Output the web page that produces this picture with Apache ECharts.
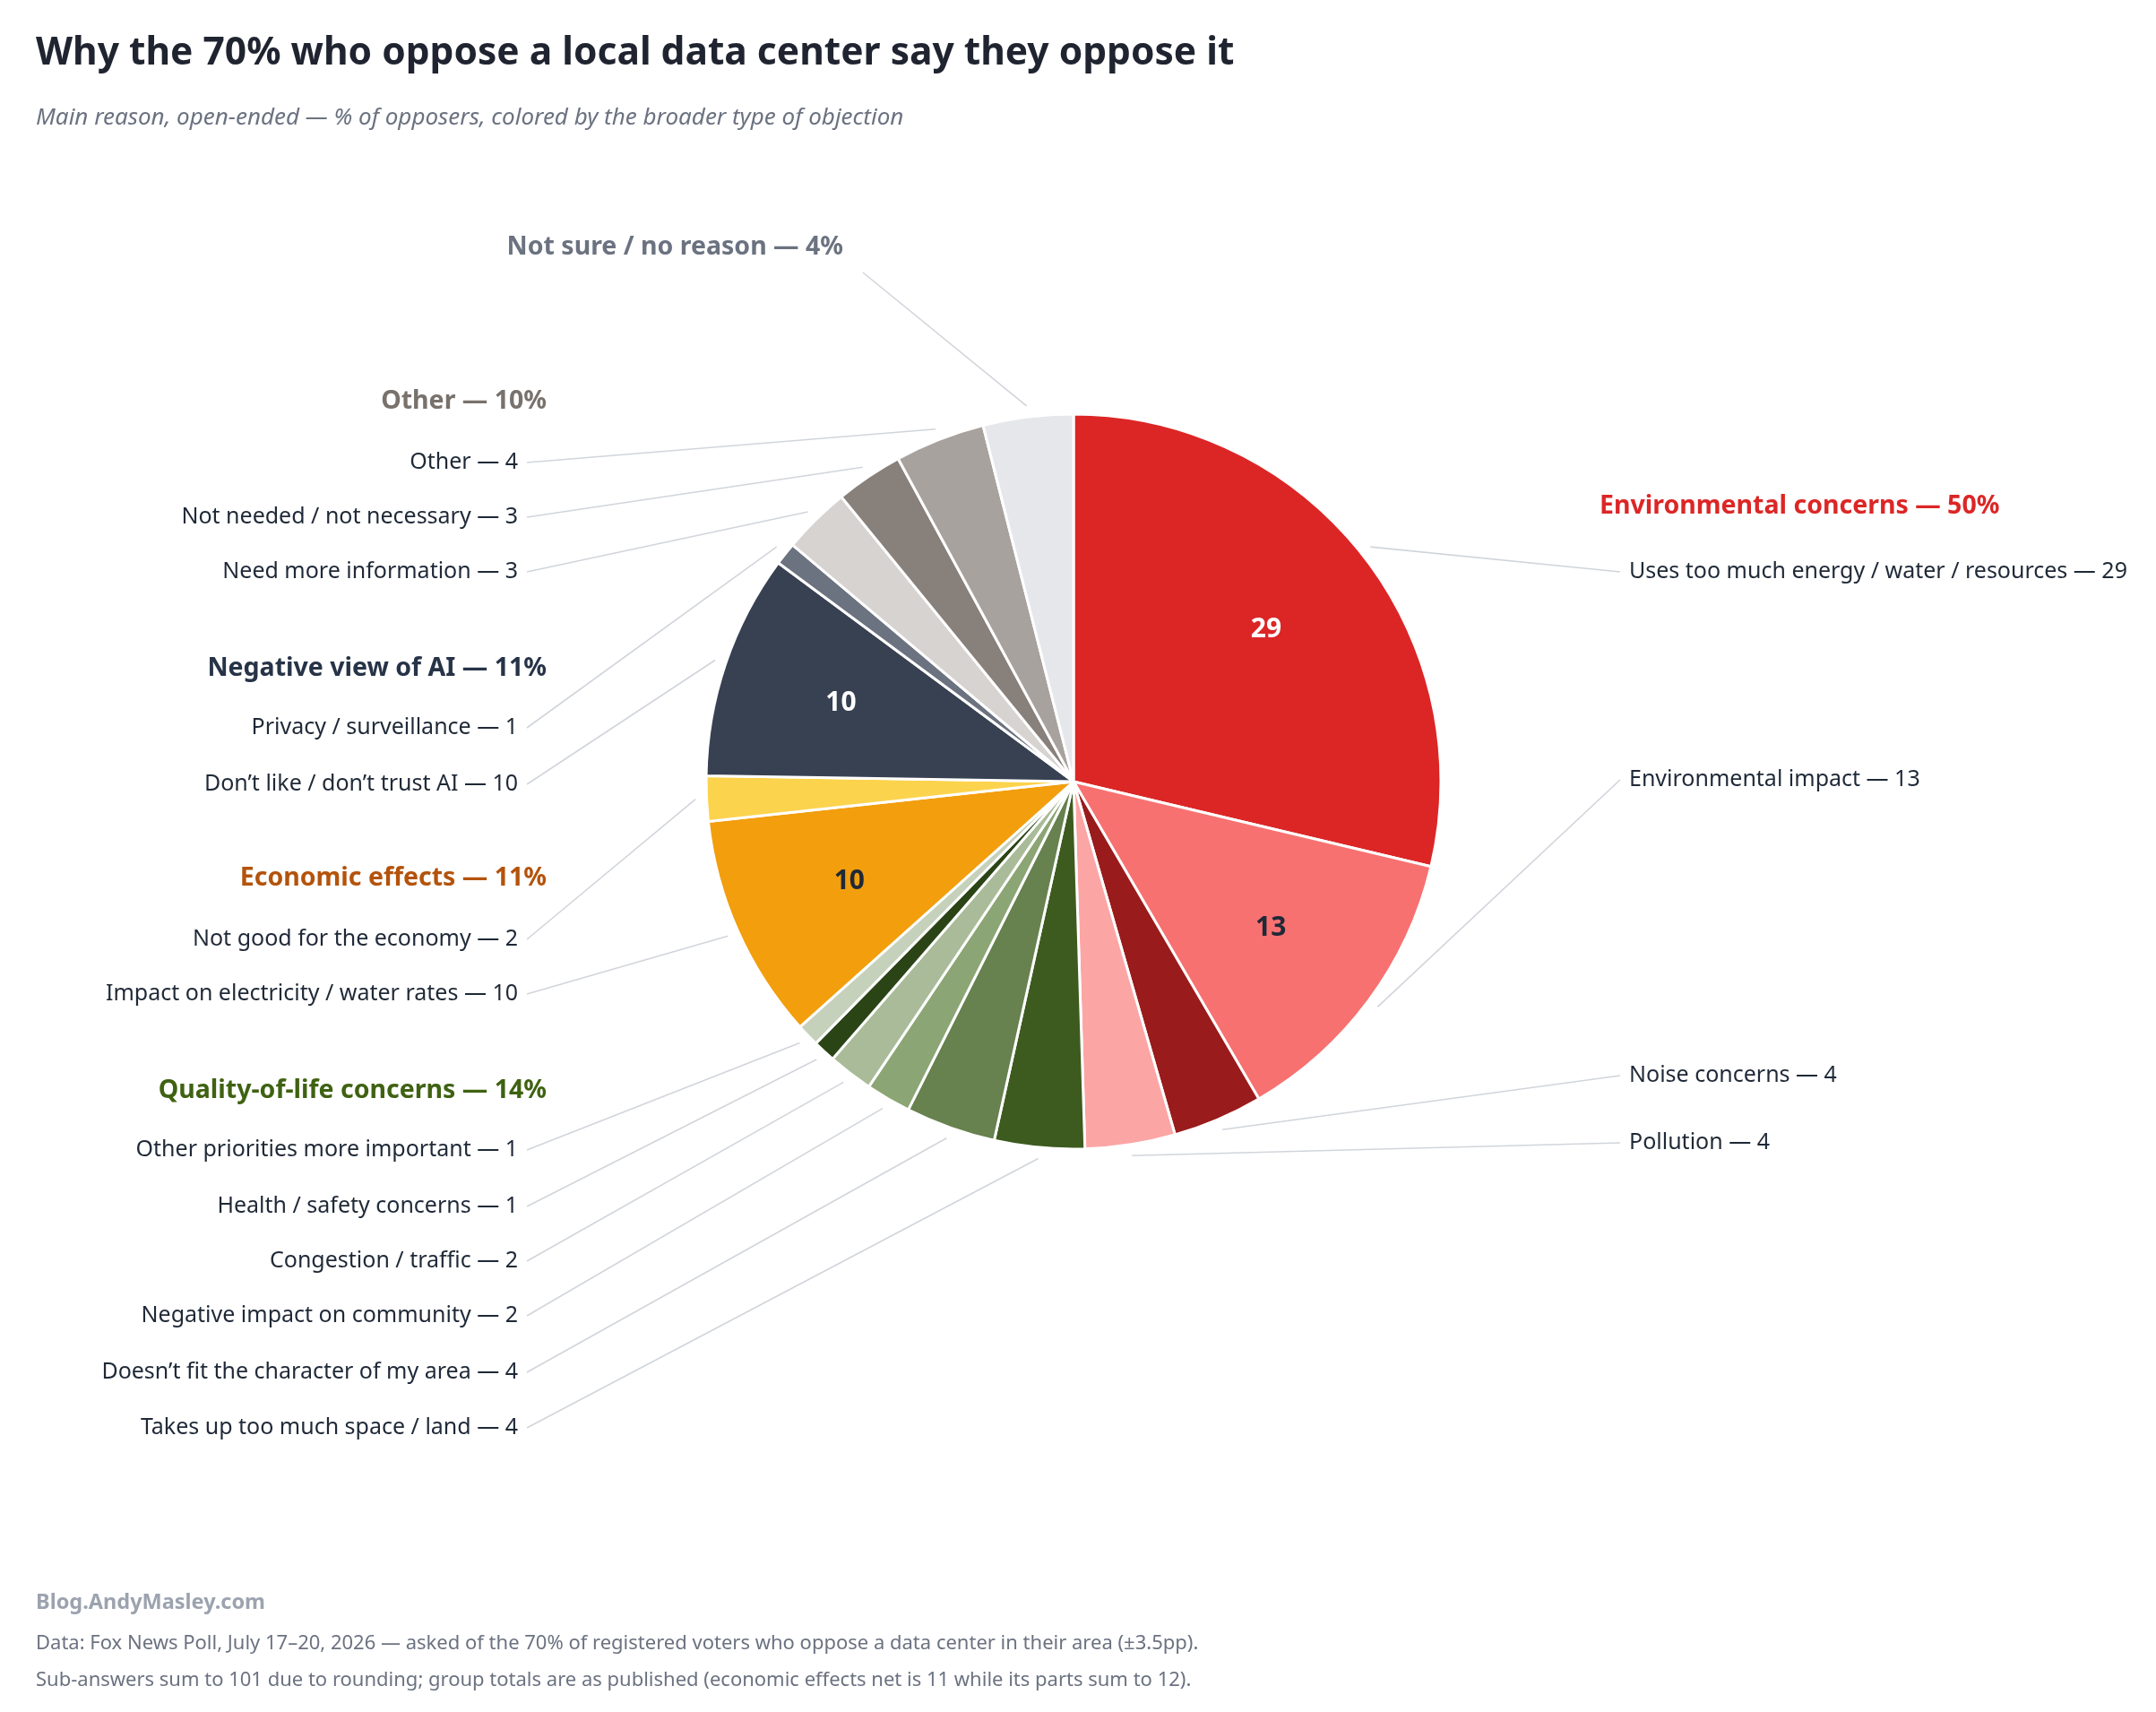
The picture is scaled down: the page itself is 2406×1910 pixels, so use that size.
<!DOCTYPE html>
<html>
<head>
<meta charset="utf-8">
<title>Why the 70% who oppose a local data center say they oppose it</title>
<script src="https://cdn.jsdelivr.net/npm/echarts@6/dist/echarts.min.js"></script>
<style>
html, body { margin: 0; padding: 0; background: #ffffff; }
#reasons-chart { width: 2406px; height: 1910px; }
</style>
</head>
<body>
<div id="reasons-chart"></div>
<script>
// main reasons, clockwise from 12 o'clock
var reasons = ['Uses too much energy / water / resources', 'Environmental impact', 'Noise concerns', 'Pollution',
    'Takes up too much space / land', 'Doesn\u2019t fit the character of my area', 'Negative impact on community',
    'Congestion / traffic', 'Health / safety concerns', 'Other priorities more important',
    'Impact on electricity / water rates', 'Not good for the economy',
    'Don\u2019t like / don\u2019t trust AI', 'Privacy / surveillance',
    'Need more information', 'Not needed / not necessary', 'Other', 'Not sure / no reason'];
var shares = [29, 13, 4, 4, 4, 4, 2, 2, 1, 1, 10, 2, 10, 1, 3, 3, 4, 4]; // % of opposers
var reasonGroup = [0, 0, 0, 0, 1, 1, 1, 1, 1, 1, 2, 2, 3, 3, 4, 4, 4, 5];

// broader type of objection
var groupNames = ['Environmental concerns', 'Quality-of-life concerns', 'Economic effects', 'Negative view of AI', 'Other', 'Not sure / no reason'];
var groupTotals = [50, 14, 11, 11, 10, 4];

var titleText = 'Why the 70% who oppose a local data center say they oppose it';
var subtitleText = 'Main reason, open-ended \u2014 % of opposers, colored by the broader type of objection';
var sourceText = 'Blog.AndyMasley.com';
var noteLines = ['Data: Fox News Poll, July 17\u201320, 2026 \u2014 asked of the 70% of registered voters who oppose a data center in their area (\u00b13.5pp).',
    'Sub-answers sum to 101 due to rounding; group totals are as published (economic effects net is 11 while its parts sum to 12).'];

// styles
var sliceColors = ['#dc2626', '#f87171', '#991b1b', '#fca5a5',
    '#3d5b1f', '#67814f', '#8ca574', '#a9bb98', '#2b4416', '#c6d1bc',
    '#f29e0d', '#fcd34d', '#374151', '#6b7280',
    '#d6d3d1', '#88807a', '#a8a29e', '#e5e7eb'];
var groupColors = ['#dc2626', '#3f6212', '#b4530b', '#273347', '#78716c', '#6b7280'];
var innerLabelColors = {0: '#ffffff', 1: '#1f2937', 10: '#1f2937', 12: '#ffffff'};

// layout (px)
var FONT = '"Noto Sans", "DejaVu Sans", sans-serif';
var CX = 1198, CY = 872, R = 410;
var LEFT_X = 578, RIGHT_X = 1818, HEAD_LEFT_X = 610, HEAD_RIGHT_X = 1785;
var labelY = [638, 870, 1200, 1275, 1593, 1531, 1468, 1407, 1346, 1283, 1109, 1048, 875, 812, 638, 577, 516, 276];
var headY = [565, 1217, 980, 746, 448];

var chart = echarts.init(document.getElementById('reasons-chart'));

var pieData = reasons.map(function (name, i) {
    var item = {name: name, value: shares[i], itemStyle: {color: sliceColors[i]}};
    if (reasonGroup[i] === 5) {
        // "not sure" has no sub-answers, its label is the group heading
        item.label = {fontWeight: 'bold', fontSize: 28.5, color: groupColors[5]};
    }
    return item;
});

var innerData = reasons.map(function (name, i) {
    return {
        name: name,
        value: shares[i],
        label: {color: innerLabelColors[i] || '#1f2937'}
    };
});

var graphics = [
    {type: 'text', x: 40, y: 60, style: {text: titleText, fill: '#1f2430', font: 'bold 42.5px ' + FONT, verticalAlign: 'middle'}},
    {type: 'text', x: 40, y: 132, style: {text: subtitleText, fill: '#6b7280', font: 'italic 26px ' + FONT, verticalAlign: 'middle'}},
    {type: 'text', x: 40, y: 1788, style: {text: sourceText, fill: '#9ca3af', font: 'bold 23.5px ' + FONT, verticalAlign: 'middle'}},
    {type: 'text', x: 40, y: 1834, style: {text: noteLines[0], fill: '#6b7280', font: '22px ' + FONT, verticalAlign: 'middle'}},
    {type: 'text', x: 40, y: 1875, style: {text: noteLines[1], fill: '#6b7280', font: '22px ' + FONT, verticalAlign: 'middle'}}
];
// group headings (the "not sure" one is the pie label itself)
for (var g = 0; g < 5; g++) {
    var onRight = g === 0;
    graphics.push({
        type: 'text',
        x: onRight ? HEAD_RIGHT_X : HEAD_LEFT_X,
        y: headY[g],
        style: {
            text: groupNames[g] + ' \u2014 ' + groupTotals[g] + '%',
            fill: groupColors[g],
            font: 'bold 28.5px ' + FONT,
            align: onRight ? 'left' : 'right',
            verticalAlign: 'middle'
        }
    });
}

var option = {
    backgroundColor: '#ffffff',
    animation: false,
    graphic: graphics,
    series: [
        {
            type: 'pie',
            center: [CX, CY],
            radius: R,
            startAngle: 90,
            clockwise: true,
            avoidLabelOverlap: false,
            silent: true,
            itemStyle: {borderColor: '#ffffff', borderWidth: 3},
            label: {
                show: true,
                position: 'outside',
                overflow: 'none',
                fontFamily: FONT,
                fontSize: 25,
                color: '#1f2937',
                formatter: function (p) {
                    if (reasonGroup[p.dataIndex] === 5) {
                        return p.name + ' \u2014 ' + groupTotals[5] + '%';
                    }
                    return p.name + ' \u2014 ' + p.value;
                }
            },
            labelLine: {show: true, lineStyle: {color: '#d1d5db', width: 1.6}},
            labelLayout: function (params) {
                var i = params.dataIndex;
                var onRight = reasonGroup[i] === 0;
                var isHead = reasonGroup[i] === 5;
                var x = isHead ? 941 : (onRight ? RIGHT_X : LEFT_X);
                var y = labelY[i];
                var res = {x: x, y: y, align: onRight ? 'left' : 'right', verticalAlign: 'middle'};
                var pts = params.labelLinePoints;
                if (pts && pts.length) {
                    // start just outside the slice edge, on the slice's mid angle
                    var s = [CX + (pts[0][0] - CX) * 1.03, CY + (pts[0][1] - CY) * 1.03];
                    var e = isHead ? [x + 22, y + 28] : [onRight ? x - 10 : x + 10, y];
                    res.labelLinePoints = [e, s, s];
                }
                return res;
            },
            data: pieData
        },
        {
            // value labels for the big slices
            type: 'pie',
            center: [CX, CY],
            radius: [132, R],
            startAngle: 90,
            clockwise: true,
            silent: true,
            itemStyle: {color: 'rgba(0,0,0,0)', borderWidth: 0},
            label: {
                show: true,
                position: 'inside',
                fontFamily: FONT,
                fontSize: 30,
                fontWeight: 'bold',
                formatter: function (p) {
                    return p.value >= 10 ? String(p.value) : '';
                }
            },
            labelLine: {show: false},
            data: innerData
        }
    ]
};

chart.setOption(option);

window.addEventListener('resize', function () {
    chart.resize();
});
</script>
</body>
</html>
